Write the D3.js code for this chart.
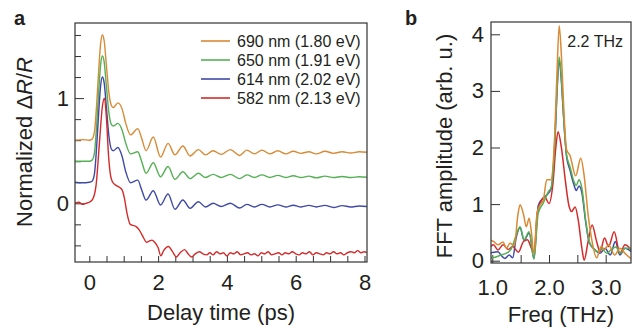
<!DOCTYPE html>
<html>
<head>
<meta charset="utf-8">
<script src="https://cdn.jsdelivr.net/npm/d3@7"></script>
<style>
  body { margin: 0; background: #fff; }
  text { font-family: "Liberation Sans", Arial, Helvetica, sans-serif; fill: #231f20; }
</style>
</head>
<body>
<script>
// ---- data ----
// panel a: delay time (ps) vs normalized dR/R, one [t, value] list per probe wavelength
const labels = ['690 nm (1.80 eV)', '650 nm (1.91 eV)', '614 nm (2.02 eV)', '582 nm (2.13 eV)'];
const colors = ['#d98a35', '#55b055', '#3f4aa6', '#d42a2a'];

const trace690 = [[-0.42,0.60],[-0.2,0.605],[0.0,0.60],[0.08,0.61],[0.15,0.68],[0.21,0.92],[0.28,1.3],[0.33,1.52],[0.38,1.60],[0.43,1.55],[0.5,1.3],[0.57,1.05],[0.65,0.925],[0.7,0.91],[0.83,0.955],[0.95,0.9],[1.06,0.76],[1.2,0.65],[1.41,0.71],[1.52,0.62],[1.65,0.50],[1.86,0.63],[2.07,0.44],[2.29,0.57],[2.49,0.46],[2.72,0.545],[2.93,0.45],[3.17,0.51],[3.38,0.46],[3.6,0.50],[3.83,0.465],[4.1,0.51],[4.37,0.455],[4.58,0.505],[4.8,0.47],[5.02,0.505],[5.25,0.47],[5.48,0.50],[5.71,0.47],[5.93,0.495],[6.16,0.475],[6.38,0.49],[6.6,0.47],[6.85,0.495],[7.1,0.475],[7.35,0.49],[7.6,0.478],[7.85,0.49],[8.07,0.485]];
const trace650 = [[-0.42,0.40],[-0.2,0.40],[0.0,0.40],[0.08,0.41],[0.15,0.48],[0.21,0.72],[0.28,1.1],[0.33,1.32],[0.38,1.40],[0.43,1.35],[0.5,1.1],[0.57,0.86],[0.65,0.745],[0.7,0.735],[0.83,0.76],[0.95,0.7],[1.06,0.57],[1.2,0.47],[1.41,0.49],[1.52,0.4],[1.65,0.285],[1.86,0.386],[2.07,0.253],[2.29,0.35],[2.49,0.228],[2.72,0.30],[2.93,0.235],[3.17,0.285],[3.38,0.245],[3.6,0.275],[3.83,0.245],[4.1,0.275],[4.37,0.235],[4.58,0.27],[4.8,0.245],[5.02,0.27],[5.25,0.245],[5.48,0.265],[5.71,0.245],[5.93,0.262],[6.16,0.245],[6.38,0.258],[6.6,0.242],[6.85,0.258],[7.1,0.245],[7.35,0.255],[7.6,0.245],[7.85,0.252],[8.07,0.247]];
const trace614 = [[-0.42,0.20],[-0.2,0.195],[0.0,0.20],[0.08,0.21],[0.15,0.28],[0.21,0.52],[0.28,0.9],[0.33,1.12],[0.38,1.20],[0.43,1.15],[0.5,0.9],[0.57,0.64],[0.65,0.51],[0.7,0.50],[0.83,0.53],[0.95,0.45],[1.06,0.3],[1.2,0.196],[1.41,0.22],[1.52,0.13],[1.65,0.03],[1.86,0.12],[2.07,-0.016],[2.29,0.088],[2.49,-0.057],[2.72,0.031],[2.93,-0.048],[3.17,0.015],[3.38,-0.035],[3.6,0.0],[3.83,-0.03],[4.1,0.0],[4.37,-0.045],[4.58,-0.01],[4.8,-0.035],[5.02,-0.01],[5.25,-0.035],[5.48,-0.015],[5.71,-0.035],[5.93,-0.018],[6.16,-0.035],[6.38,-0.02],[6.6,-0.035],[6.85,-0.02],[7.1,-0.04],[7.35,-0.022],[7.6,-0.035],[7.85,-0.025],[8.07,-0.03]];
const trace582 = [[-0.42,0.0],[-0.3,0.01],[-0.2,-0.01],[-0.1,0.0],[0.0,0.01],[0.1,0.04],[0.2,0.18],[0.3,0.6],[0.38,0.92],[0.44,1.0],[0.5,0.8],[0.56,0.45],[0.62,0.26],[0.68,0.2],[0.78,0.17],[0.88,0.15],[0.95,0.13],[1.02,0.05],[1.1,-0.1],[1.19,-0.2],[1.27,-0.21],[1.35,-0.22],[1.42,-0.24],[1.5,-0.28],[1.58,-0.33],[1.66,-0.37],[1.74,-0.36],[1.82,-0.35],[1.9,-0.37],[2.0,-0.42],[2.08,-0.5],[2.16,-0.45],[2.3,-0.41],[2.42,-0.46],[2.53,-0.51],[2.64,-0.47],[2.77,-0.44],[2.87,-0.48],[2.97,-0.51],[3.08,-0.48],[3.2,-0.46],[3.3,-0.48],[3.42,-0.49],[3.5,-0.47],[3.6,-0.49],[3.7,-0.46],[3.8,-0.48],[3.9,-0.47],[4.0,-0.50],[4.1,-0.47],[4.2,-0.48],[4.3,-0.46],[4.4,-0.49],[4.5,-0.48],[4.6,-0.47],[4.7,-0.49],[4.8,-0.48],[4.9,-0.50],[5.0,-0.47],[5.1,-0.48],[5.2,-0.46],[5.3,-0.49],[5.4,-0.48],[5.5,-0.47],[5.6,-0.49],[5.7,-0.47],[5.8,-0.48],[5.9,-0.46],[6.0,-0.48],[6.1,-0.49],[6.2,-0.47],[6.3,-0.48],[6.4,-0.46],[6.5,-0.49],[6.6,-0.47],[6.7,-0.48],[6.8,-0.49],[6.9,-0.47],[7.0,-0.48],[7.1,-0.46],[7.2,-0.48],[7.3,-0.47],[7.4,-0.49],[7.5,-0.47],[7.6,-0.46],[7.7,-0.47],[7.8,-0.45],[7.9,-0.47],[8.0,-0.46],[8.07,-0.47]];

// panel b: frequency (THz) vs FFT amplitude
const fft690 = [[0.97,0.36],[1.02,0.34],[1.1,0.28],[1.19,0.33],[1.25,0.22],[1.31,0.31],[1.39,0.27],[1.45,0.8],[1.49,0.99],[1.55,0.82],[1.6,0.60],[1.65,0.75],[1.69,0.5],[1.735,0.12],[1.79,0.85],[1.84,0.98],[1.9,1.07],[1.96,1.43],[2.03,1.43],[2.1,2.2],[2.14,3.3],[2.18,4.15],[2.22,3.6],[2.26,2.7],[2.31,1.96],[2.37,1.86],[2.47,1.5],[2.56,1.81],[2.62,1.5],[2.69,0.81],[2.76,0.34],[2.84,0.05],[2.92,0.25],[2.98,0.2],[3.05,0.28],[3.16,0.1],[3.25,0.22],[3.34,0.13],[3.45,0.03]];
const fft650 = [[0.97,0.05],[1.05,0.06],[1.15,0.1],[1.24,0.13],[1.33,0.2],[1.42,0.45],[1.49,0.60],[1.56,0.37],[1.65,0.51],[1.735,0.03],[1.81,0.84],[1.9,1.02],[1.99,1.22],[2.04,1.3],[2.1,2.06],[2.14,3.0],[2.18,3.6],[2.22,3.2],[2.25,2.69],[2.31,1.87],[2.37,1.66],[2.44,1.40],[2.48,1.33],[2.53,1.43],[2.58,1.28],[2.65,0.69],[2.71,0.34],[2.78,0.22],[2.87,0.16],[2.93,0.22],[3.02,0.13],[3.1,0.2],[3.18,0.24],[3.26,0.13],[3.34,0.22],[3.45,0.22]];
const fft614 = [[0.97,0.14],[1.03,0.15],[1.1,0.16],[1.16,0.09],[1.22,0.04],[1.3,0.1],[1.36,0.05],[1.42,0.4],[1.49,0.58],[1.56,0.36],[1.65,0.49],[1.735,0.04],[1.81,0.97],[1.87,1.08],[1.95,1.15],[2.04,1.28],[2.1,2.0],[2.14,2.95],[2.18,3.55],[2.22,3.15],[2.25,2.65],[2.31,1.84],[2.37,1.6],[2.44,1.34],[2.48,1.24],[2.53,1.32],[2.58,1.2],[2.65,0.66],[2.71,0.32],[2.8,0.2],[2.9,0.13],[2.99,0.22],[3.08,0.1],[3.17,0.34],[3.25,0.1],[3.34,0.22],[3.45,0.16]];
const fft582 = [[0.97,0.25],[1.02,0.28],[1.1,0.19],[1.19,0.28],[1.28,0.2],[1.36,0.25],[1.46,0.15],[1.55,0.34],[1.62,0.37],[1.69,0.22],[1.74,0.16],[1.79,0.8],[1.86,1.05],[1.93,1.12],[2.0,1.01],[2.07,1.37],[2.12,2.0],[2.16,2.28],[2.22,1.99],[2.29,1.40],[2.35,0.98],[2.4,0.87],[2.46,0.95],[2.52,0.69],[2.58,0.22],[2.62,0.01],[2.69,0.34],[2.76,0.63],[2.84,0.34],[2.9,0.16],[2.98,0.40],[3.05,0.25],[3.15,0.51],[3.25,0.13],[3.34,0.28],[3.45,0.19]];

const tracesA = [trace690, trace650, trace614, trace582];
const tracesB = [fft690, fft650, fft614, fft582];
const drawOrderB = [2, 3, 1, 0]; // blue under green, orange on top

const xTicksA = d3.range(0, 17).map(i => i / 2);        // 0 .. 8 step 0.5
const yTicksA = d3.range(-2, 9).map(i => i / 5);        // -0.4 .. 1.6 step 0.2
const xTicksB = [1, 1.5, 2, 2.5, 3];
const yTicksB = [0, 1, 2, 3, 4];

// ---- layout ----
const width = 641, height = 329;
const svg = d3.select('body').append('svg')
    .attr('width', width)
    .attr('height', height);

const boxA = {left: 75, right: 367, top: 23, bottom: 262};
const boxB = {left: 491, right: 631, top: 22, bottom: 263};

const xA = d3.scaleLinear().domain([0, 8]).range([89.3, 364.5]);
const yA = d3.scaleLinear().domain([0, 1]).range([203.3, 98.1]);
const xB = d3.scaleLinear().domain([1, 3]).range([492.3, 605.7]);
const yB = d3.scaleLinear().domain([0, 4]).range([260.7, 34.3]);

const FONT = 22;

function clip(id, box) {
    svg.append('clipPath').attr('id', id)
        .append('rect')
        .attr('x', box.left).attr('y', box.top)
        .attr('width', box.right - box.left).attr('height', box.bottom - box.top);
}
clip('clipA', boxA);
clip('clipB', boxB);

function styleAxis(g) {
    g.select('.domain').remove();
    g.selectAll('line').attr('stroke', '#333').attr('stroke-width', 1);
    g.selectAll('text').style('font-size', FONT + 'px').attr('fill', '#231f20');
}

// ---- panel a ----
const gA = svg.append('g').classed('panel-a', true);

gA.append('g')
    .attr('transform', `translate(0,${boxA.bottom})`)
    .call(d3.axisBottom(xA).tickValues(xTicksA)
        .tickSizeInner(-6).tickSizeOuter(0).tickPadding(12)
        .tickFormat(d => d % 2 === 0 ? d : ''))
    .call(styleAxis);

gA.append('g')
    .attr('transform', `translate(${boxA.left},0)`)
    .call(d3.axisLeft(yA).tickValues(yTicksA)
        .tickSizeInner(-6).tickSizeOuter(0).tickPadding(6)
        .tickFormat(d => (d === 0 || d === 1) ? d : ''))
    .call(styleAxis)
    .call(g => g.selectAll('.tick line').attr('x2', d => (d === 0 || d === 1) ? 9 : 6));

const lineA = d3.line()
    .x(d => xA(d[0])).y(d => yA(d[1]))
    .curve(d3.curveMonotoneX);

gA.append('g').attr('clip-path', 'url(#clipA)')
    .selectAll('path')
    .data(tracesA)
    .join('path')
    .attr('d', lineA)
    .attr('fill', 'none')
    .attr('stroke', (d, i) => colors[i])
    .attr('stroke-width', 1.4);

gA.append('rect')
    .attr('x', boxA.left).attr('y', boxA.top)
    .attr('width', boxA.right - boxA.left).attr('height', boxA.bottom - boxA.top)
    .attr('fill', 'none').attr('stroke', '#333').attr('stroke-width', 1.2);

// legend
const legend = gA.append('g').selectAll('g')
    .data(labels)
    .join('g')
    .attr('transform', (d, i) => `translate(201,${41 + i * 19})`);
legend.append('line')
    .attr('x1', 0).attr('x2', 29)
    .attr('stroke', (d, i) => colors[i])
    .attr('stroke-width', 1.6);
legend.append('text')
    .attr('x', 36).attr('y', 5.7)
    .style('font-size', '16px')
    .text(d => d);

// axis titles
gA.append('text')
    .attr('x', (boxA.left + boxA.right) / 2).attr('y', 320)
    .attr('text-anchor', 'middle')
    .style('font-size', FONT + 'px')
    .text('Delay time (ps)');

const yTitleA = gA.append('text')
    .attr('transform', 'translate(32,142) rotate(-90)')
    .attr('text-anchor', 'middle')
    .style('font-size', FONT + 'px');
yTitleA.append('tspan').text('Normalized \u0394');
yTitleA.append('tspan').style('font-style', 'italic').text('R');
yTitleA.append('tspan').text('/');
yTitleA.append('tspan').style('font-style', 'italic').text('R');

gA.append('text')
    .attr('x', 14).attr('y', 25)
    .style('font-size', '20px').style('font-weight', 'bold')
    .text('a');

// ---- panel b ----
const gB = svg.append('g').classed('panel-b', true);

gB.append('g')
    .attr('transform', `translate(0,${boxB.bottom})`)
    .call(d3.axisBottom(xB).tickValues(xTicksB)
        .tickSizeInner(-8).tickSizeOuter(0).tickPadding(16)
        .tickFormat(d => Number.isInteger(d) ? d3.format('.1f')(d) : ''))
    .call(styleAxis);

gB.append('g')
    .attr('transform', `translate(${boxB.left},0)`)
    .call(d3.axisLeft(yB).tickValues(yTicksB)
        .tickSizeInner(-9).tickSizeOuter(0).tickPadding(7)
        .tickFormat(d3.format('d')))
    .call(styleAxis);

const lineB = d3.line()
    .x(d => xB(d[0])).y(d => yB(d[1]))
    .curve(d3.curveMonotoneX);

gB.append('g').attr('clip-path', 'url(#clipB)')
    .selectAll('path')
    .data(drawOrderB)
    .join('path')
    .attr('d', i => lineB(tracesB[i]))
    .attr('fill', 'none')
    .attr('stroke', i => colors[i])
    .attr('stroke-width', 1.5);

gB.append('rect')
    .attr('x', boxB.left).attr('y', boxB.top)
    .attr('width', boxB.right - boxB.left).attr('height', boxB.bottom - boxB.top)
    .attr('fill', 'none').attr('stroke', '#333').attr('stroke-width', 1.2);

gB.append('text')
    .attr('x', 623).attr('y', 46.5)
    .attr('text-anchor', 'end')
    .style('font-size', '16px')
    .text('2.2 THz');

gB.append('text')
    .attr('x', (boxB.left + boxB.right) / 2).attr('y', 322)
    .attr('text-anchor', 'middle')
    .style('font-size', FONT + 'px')
    .text('Freq (THz)');

gB.append('text')
    .attr('transform', 'translate(452,146) rotate(-90)')
    .attr('text-anchor', 'middle')
    .style('font-size', FONT + 'px')
    .text('FFT amplitude (arb. u.)');

gB.append('text')
    .attr('x', 405).attr('y', 25)
    .style('font-size', '20px').style('font-weight', 'bold')
    .text('b');
</script>
</body>
</html>
